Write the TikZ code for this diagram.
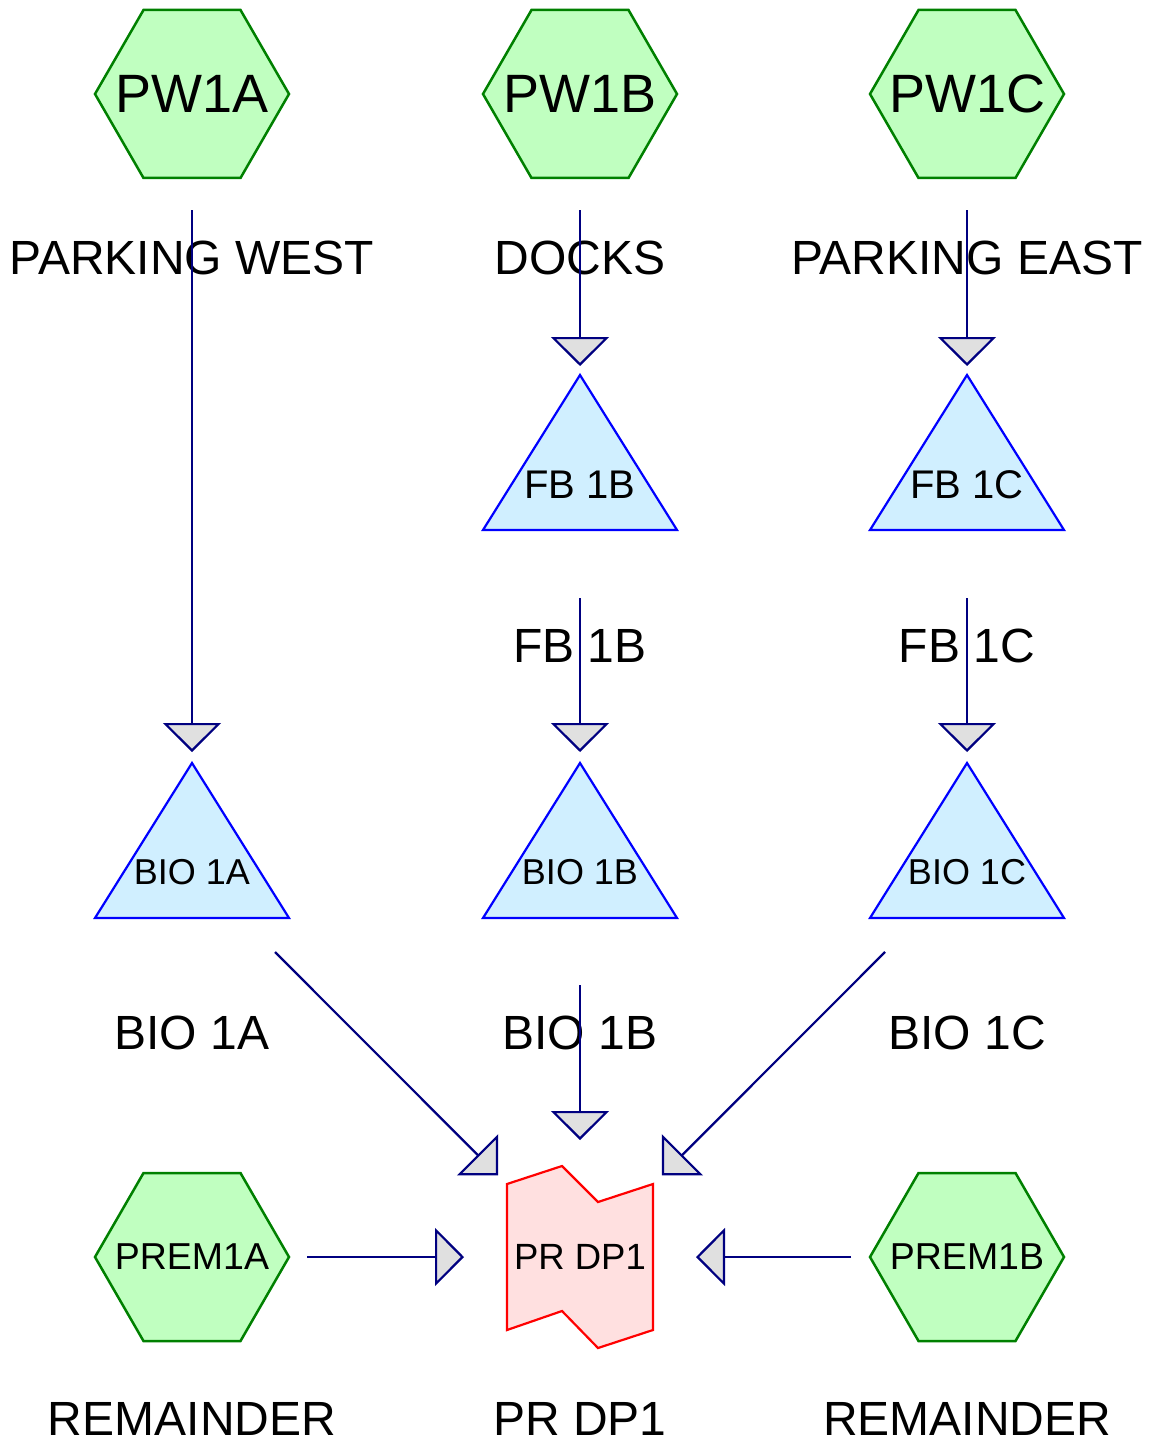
\documentclass[tikz,border=0pt]{standalone}
\usepackage{fontspec}
\setmainfont{Liberation Sans}
\usetikzlibrary{arrows.meta}
\definecolor{hexfill}{HTML}{C0FFC0}
\definecolor{hexline}{HTML}{008000}
\definecolor{trifill}{HTML}{D0EFFF}
\definecolor{triline}{HTML}{0000FF}
\definecolor{prfill}{HTML}{FFE0E0}
\definecolor{prline}{HTML}{FF0000}
\definecolor{flowline}{HTML}{000080}
\definecolor{arrowfill}{HTML}{E0E0E0}
\begin{document}
\begin{tikzpicture}[x=1pt,y=-1pt,
  hexbox/.style={rectangle, minimum width=194pt, minimum height=168pt, inner sep=0pt, outer sep=0pt},
  hexshape/.style={draw=hexline, fill=hexfill, line width=2.5pt, line join=miter},
  tribox/.style={rectangle, minimum width=194pt, minimum height=155pt, inner sep=0pt, outer sep=0pt},
  trishape/.style={draw=triline, fill=trifill, line width=2.2pt, line join=miter},
  prshape/.style={draw=prline, fill=prfill, line width=2.2pt, line join=miter},
  prbox/.style={rectangle, minimum width=146pt, minimum height=182pt, inner sep=0pt, outer sep=0pt},
  biglabel/.style={anchor=base, inner sep=0pt, font=\fontsize{48}{58}\selectfont},
  hexbig/.style={font=\fontsize{54}{64}\selectfont},
  hexsmall/.style={font=\fontsize{37.5}{45}\selectfont},
  tritext/.style={anchor=base, inner sep=0pt},
  flow/.style={draw=flowline, line width=2.2pt,
    -{Triangle[length=29pt, width=58pt, fill=arrowfill]}}
]
\useasboundingbox (0,0) rectangle (1153,1442);

% hexagon outlines
\foreach \p in {(192,94),(580,94),(967,94),(192,1257),(967,1257)}
  \draw[hexshape] \p ++(-97,0) -- ++(48.5,-84) -- ++(97,0) -- ++(48.5,84)
    -- ++(-48.5,84) -- ++(-97,0) -- cycle;
% hexagon nodes (sources)
\node[hexbox, hexbig] (pw1a) at (192,94) {\raisebox{-4pt}{PW1A}};
\node[hexbox, hexbig] (pw1b) at (580,94) {\raisebox{-4pt}{PW1B}};
\node[hexbox, hexbig] (pw1c) at (967,94) {\raisebox{-4pt}{PW1C}};
\node[hexbox, hexsmall] (prem1a) at (192,1257) {PREM1A};
\node[hexbox, hexsmall] (prem1b) at (967,1257) {PREM1B};

% triangles
\node[tribox] (fb1b) at (580,452.5) {};
\node[tribox] (fb1c) at (967,452.5) {};
\node[tribox] (bio1a) at (192,840.5) {};
\node[tribox] (bio1b) at (580,840.5) {};
\node[tribox] (bio1c) at (967,840.5) {};
\foreach \t in {fb1b,fb1c,bio1a,bio1b,bio1c}
  \draw[trishape] (\t.north) -- (\t.south east) -- (\t.south west) -- cycle;
\node[tritext, font=\fontsize{40}{48}\selectfont] (fb1b-text) at (580,498) {FB 1B};
\node[tritext, font=\fontsize{40}{48}\selectfont] (fb1c-text) at (967,498) {FB 1C};
\node[tritext, font=\fontsize{36}{44}\selectfont] (bio1a-text) at (192,884) {BIO 1A};
\node[tritext, font=\fontsize{36}{44}\selectfont] (bio1b-text) at (580,884) {BIO 1B};
\node[tritext, font=\fontsize{36}{44}\selectfont] (bio1c-text) at (967,884) {BIO 1C};

% PR DP1
\draw[prshape] (507,1184) -- (562,1166) -- (598,1202) -- (653,1184) -- (653,1330)
  -- (598,1348) -- (562,1311) -- (507,1330) -- cycle;
\node[prbox, font=\fontsize{36.5}{44}\selectfont] (prdp1) at (580,1257) {PR DP1};

% labels
\node[biglabel] (lab-pw1a) at (192,274) {PARKING WEST};
\node[biglabel] (lab-pw1b) at (580,274) {DOCKS};
\node[biglabel] (lab-pw1c) at (967,274) {PARKING EAST};
\node[biglabel] (lab-fb1b) at (580,662) {FB 1B};
\node[biglabel] (lab-fb1c) at (967,662) {FB 1C};
\node[biglabel] (lab-bio1a) at (192,1049) {BIO 1A};
\node[biglabel] (lab-bio1b) at (580,1049) {BIO 1B};
\node[biglabel] (lab-bio1c) at (967,1049) {BIO 1C};
\node[biglabel] (lab-prem1a) at (192,1435) {REMAINDER};
\node[biglabel] (lab-prdp1) at (580,1435) {PR DP1};
\node[biglabel] (lab-prem1b) at (967,1435) {REMAINDER};

% connectors
\draw[flow, shorten <=32pt, shorten >=11pt] (pw1a.south) -- (bio1a.north);
\draw[flow, shorten <=32pt, shorten >=9pt] (pw1b.south) -- (fb1b.north);
\draw[flow, shorten <=32pt, shorten >=9pt] (pw1c.south) -- (fb1c.north);
\draw[flow, shorten <=68pt, shorten >=11pt] (fb1b.south) -- (bio1b.north);
\draw[flow, shorten <=68pt, shorten >=11pt] (fb1c.south) -- (bio1c.north);
\draw[flow, shorten <=67pt, shorten >=26pt] (bio1b.south) -- (prdp1.north);
\coordinate (bio1a-out) at (275,952);
\coordinate (bio1c-out) at (885,952);
\draw[flow, shorten >=12.7pt] (bio1a-out) -- (prdp1);
\draw[flow, shorten >=12.7pt] (bio1c-out) -- (prdp1);
\draw[flow, shorten <=18pt, shorten >=43pt] (prem1a.east) -- (prdp1.west);
\draw[flow, shorten <=19pt, shorten >=43pt] (prem1b.west) -- (prdp1.east);
\end{tikzpicture}
\end{document}
